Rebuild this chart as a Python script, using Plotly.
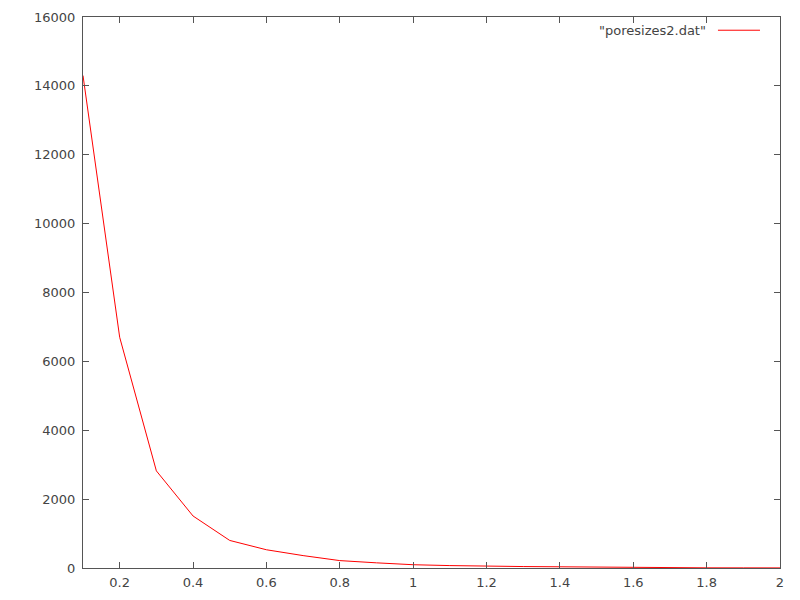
import plotly.graph_objects as go

x_vals = [0.1, 0.2, 0.3, 0.4, 0.5, 0.6, 0.7, 0.8, 0.9, 1.0,
          1.1, 1.2, 1.3, 1.4, 1.5, 1.6, 1.7, 1.8, 1.9, 2.0]
counts = [14300, 6700, 2820, 1510, 800, 530, 360, 215, 150, 95,
          70, 50, 42, 35, 25, 8, 6, 5, 4, 3]
series_name = '"poresizes2.dat"'
x_ticks = [0.2, 0.4, 0.6, 0.8, 1, 1.2, 1.4, 1.6, 1.8, 2]
y_ticks = [0, 2000, 4000, 6000, 8000, 10000, 12000, 14000, 16000]

fig = go.Figure()
fig.add_trace(go.Scatter(x=x_vals, y=counts, mode="lines",
                         line=dict(color="#ff0000", width=1),
                         name=series_name, showlegend=False))

axis_common = dict(showgrid=False, zeroline=False, showline=True,
                   linecolor="#555555", linewidth=1, mirror="ticks",
                   ticks="inside", ticklen=6, tickcolor="#555555",
                   automargin=False,
                   tickfont=dict(family="DejaVu Sans", size=13, color="#444444"))

fig.update_xaxes(range=[0.1, 2], tickvals=x_ticks, ticklabelstandoff=2,
                 ticktext=[f"{t:g}" for t in x_ticks], **axis_common)
fig.update_yaxes(range=[0, 16000], tickvals=y_ticks, ticklabelstandoff=4,
                 ticktext=[str(t) for t in y_ticks], **axis_common)

# gnuplot-style key: text then line sample to its right
fig.add_annotation(xref="paper", yref="paper", x=0.8967, y=0.976,
                   xanchor="right", yanchor="middle", showarrow=False,
                   text=series_name,
                   font=dict(family="DejaVu Sans", size=13, color="#444444"))
fig.add_shape(type="line", xref="paper", yref="paper",
              x0=0.911, x1=0.9713, y0=0.976, y1=0.976,
              line=dict(color="#ff0000", width=1))

fig.update_layout(width=792, height=592,
                  margin=dict(l=75, r=20, t=9, b=32),
                  plot_bgcolor="white", paper_bgcolor="white")

fig.write_html("out.html")
